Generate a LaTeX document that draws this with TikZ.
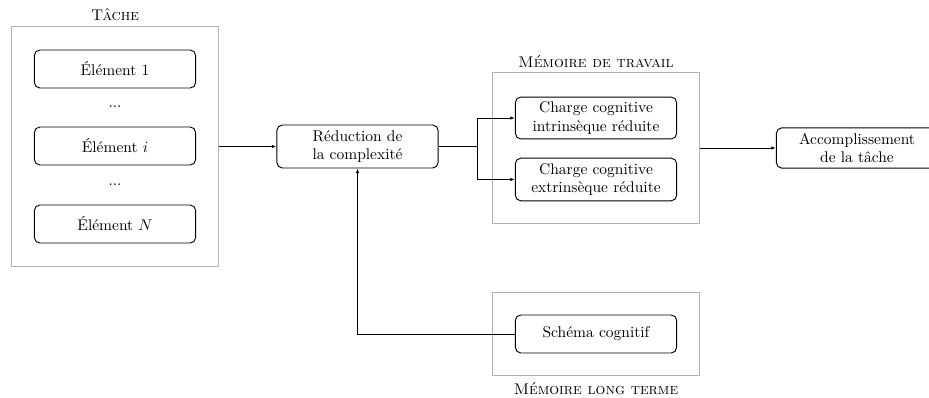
\documentclass[tikz,border=0pt]{standalone}
\usepackage{fontspec}
\usetikzlibrary{arrows.meta}
\begin{document}
\begin{tikzpicture}[x=0.645pt,y=-0.645pt,
  box/.style={draw=black,line width=0.6pt,rounded corners=3.5pt,align=center,inner sep=0pt,minimum width=104pt},
  group/.style={draw=black!30,line width=0.7pt,inner sep=0pt},
  conn/.style={line width=0.6pt},
  arr/.style={conn,-{Latex[length=3pt,width=2.2pt]}},
  title/.style={inner sep=0pt,font=\scshape}]
\useasboundingbox (0,0) rectangle (929,397);
% groups
\node[group,minimum width=134pt,minimum height=155pt] (tache) at (115,146.5) {};
\node[title] (ttache) at (115,15) {Tâche};
\node[group,minimum width=134pt,minimum height=97pt] (mt) at (596,148) {};
\node[title] (tmt) at (596,62) {Mémoire de travail};
\node[group,minimum width=134pt,minimum height=54pt] (lt) at (596,334) {};
\node[title] (tlt) at (596,389) {Mémoire long terme};
% elements
\node[box,minimum height=24.5pt] (e1) at (115,69) {Élément 1};
\node[inner sep=0pt] (d1) at (115,107) {...};
\node[box,minimum height=24.5pt] (ei) at (115,146) {Élément $i$};
\node[inner sep=0pt] (d2) at (115,185) {...};
\node[box,minimum height=24.5pt] (en) at (115,224) {Élément $N$};
% main
\node[box,minimum height=27.7pt] (red) at (357.5,146.5) {Réduction de\\la complexité};
\node[box,minimum height=27pt] (c1) at (596,118) {Charge cognitive\\intrinsèque réduite};
\node[box,minimum height=27.5pt] (c2) at (596,179.5) {Charge cognitive\\extrinsèque réduite};
\node[box,minimum height=26pt] (acc) at (857,148) {Accomplissement\\de la tâche};
\node[box,minimum height=24.5pt] (sch) at (596,334) {Schéma cognitif};
% connectors
\coordinate (split) at (477,146.5);
\draw[arr] (tache.east) -- (red.west);
\draw[conn] (red.east) -- (split);
\draw[arr] (split) |- (c1.west);
\draw[arr] (split) |- (c2.west);
\draw[arr] (mt.east) -- (acc.west);
\draw[arr] (sch.west) -| (red.south);
\end{tikzpicture}
\end{document}
